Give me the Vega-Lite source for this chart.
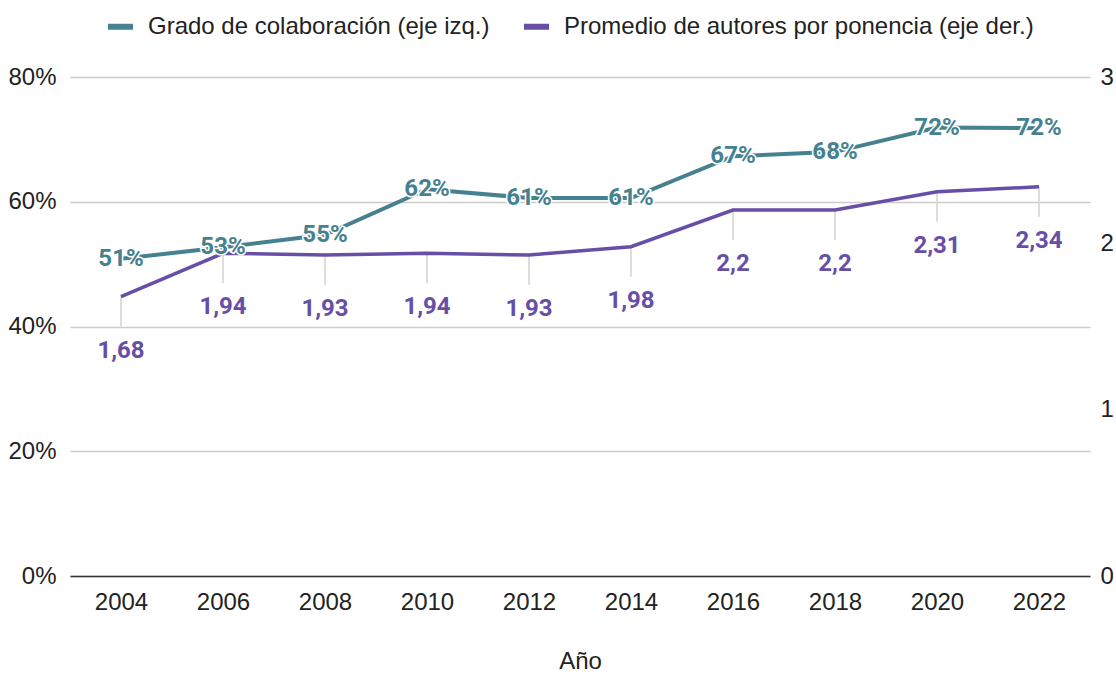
{
  "$schema": "https://vega.github.io/schema/vega-lite/v6.json",
  "width": 1020,
  "height": 499,
  "autosize": {"type": "none"},
  "padding": {"left": 70, "top": 77, "right": 26, "bottom": 100},
  "background": "white",
  "config": {
    "view": {"stroke": null},
    "font": "Liberation Sans",
    "locale": {"number": {"decimal": ",", "thousands": ".", "grouping": [3], "currency": ["", " €"]}}
  },
  "data": {
    "values": [
      {"anio": "2004", "grado": 0.5085, "autores": 1.68},
      {"anio": "2006", "grado": 0.527, "autores": 1.94},
      {"anio": "2008", "grado": 0.547, "autores": 1.93},
      {"anio": "2010", "grado": 0.62, "autores": 1.94},
      {"anio": "2012", "grado": 0.606, "autores": 1.93},
      {"anio": "2014", "grado": 0.606, "autores": 1.98},
      {"anio": "2016", "grado": 0.673, "autores": 2.2},
      {"anio": "2018", "grado": 0.68, "autores": 2.2},
      {"anio": "2020", "grado": 0.719, "autores": 2.31},
      {"anio": "2022", "grado": 0.718, "autores": 2.34}
    ]
  },
  "encoding": {
    "x": {
      "field": "anio",
      "type": "ordinal",
      "scale": {"type": "point", "padding": 0.5},
      "axis": {
        "title": "Año",
        "titleFontSize": 24,
        "titleFontWeight": "normal",
        "titleColor": "#222222",
        "titlePadding": 35,
        "labelFontSize": 24,
        "labelColor": "#222222",
        "labelAngle": 0,
        "labelPadding": 14,
        "ticks": false,
        "grid": false,
        "domainColor": "#333333",
        "domainWidth": 1.5
      }
    }
  },
  "layer": [
    {
      "encoding": {
        "y": {
          "field": "autores",
          "type": "quantitative",
          "scale": {"domain": [0, 3]},
          "axis": {
            "orient": "right",
            "values": [0, 1, 2, 3],
            "format": "d",
            "grid": false,
            "domain": false,
            "ticks": false,
            "title": null,
            "labelFontSize": 24,
            "labelColor": "#222222",
            "labelPadding": 10
          }
        }
      },
      "layer": [
        {
          "mark": {"type": "rule", "color": "#dddddd", "strokeWidth": 2, "y2Offset": 30},
          "encoding": {"y2": {"field": "autores"}}
        },
        {
          "mark": {"type": "line", "strokeWidth": 3.5},
          "encoding": {
            "color": {
              "datum": "Promedio de autores por ponencia (eje der.)",
              "type": "nominal",
              "scale": {
                "domain": ["Grado de colaboración (eje izq.)", "Promedio de autores por ponencia (eje der.)"],
                "range": ["#45818e", "#674ea7"]
              },
              "legend": {
                "orient": "none",
                "legendX": 35,
                "legendY": -66,
                "direction": "horizontal",
                "title": null,
                "symbolType": "stroke",
                "symbolSize": 625,
                "symbolStrokeWidth": 6,
                "labelFontSize": 24,
                "labelColor": "#222222",
                "labelOffset": 12,
                "columnPadding": 22,
                "labelLimit": 700
              }
            }
          }
        },
        {
          "mark": {"type": "text", "font": "Roboto", "fontWeight": "bold", "fontSize": 24, "color": "#674ea7", "baseline": "middle", "dy": 54},
          "encoding": {"text": {"field": "autores", "type": "quantitative", "format": ".3~r"}}
        }
      ]
    },
    {
      "encoding": {
        "y": {
          "field": "grado",
          "type": "quantitative",
          "scale": {"domain": [0, 0.8]},
          "axis": {
            "orient": "left",
            "values": [0, 0.2, 0.4, 0.6, 0.8],
            "format": ".0%",
            "grid": true,
            "gridColor": "#cccccc",
            "gridWidth": 1.5,
            "domain": false,
            "ticks": false,
            "title": null,
            "labelFontSize": 24,
            "labelColor": "#222222",
            "labelPadding": 14
          }
        }
      },
      "layer": [
        {
          "mark": {"type": "line", "strokeWidth": 4},
          "encoding": {
            "color": {"datum": "Grado de colaboración (eje izq.)", "type": "nominal"}
          }
        },
        {
          "mark": {"type": "text", "font": "Roboto", "fontWeight": "bold", "fontSize": 24, "color": "#ffffff", "stroke": "#ffffff", "strokeWidth": 3, "baseline": "middle"},
          "encoding": {"text": {"field": "grado", "type": "quantitative", "format": ".0%"}}
        },
        {
          "mark": {"type": "text", "font": "Roboto", "fontWeight": "bold", "fontSize": 24, "color": "#45818e", "baseline": "middle"},
          "encoding": {"text": {"field": "grado", "type": "quantitative", "format": ".0%"}}
        }
      ]
    }
  ],
  "resolve": {"scale": {"y": "independent"}}
}
